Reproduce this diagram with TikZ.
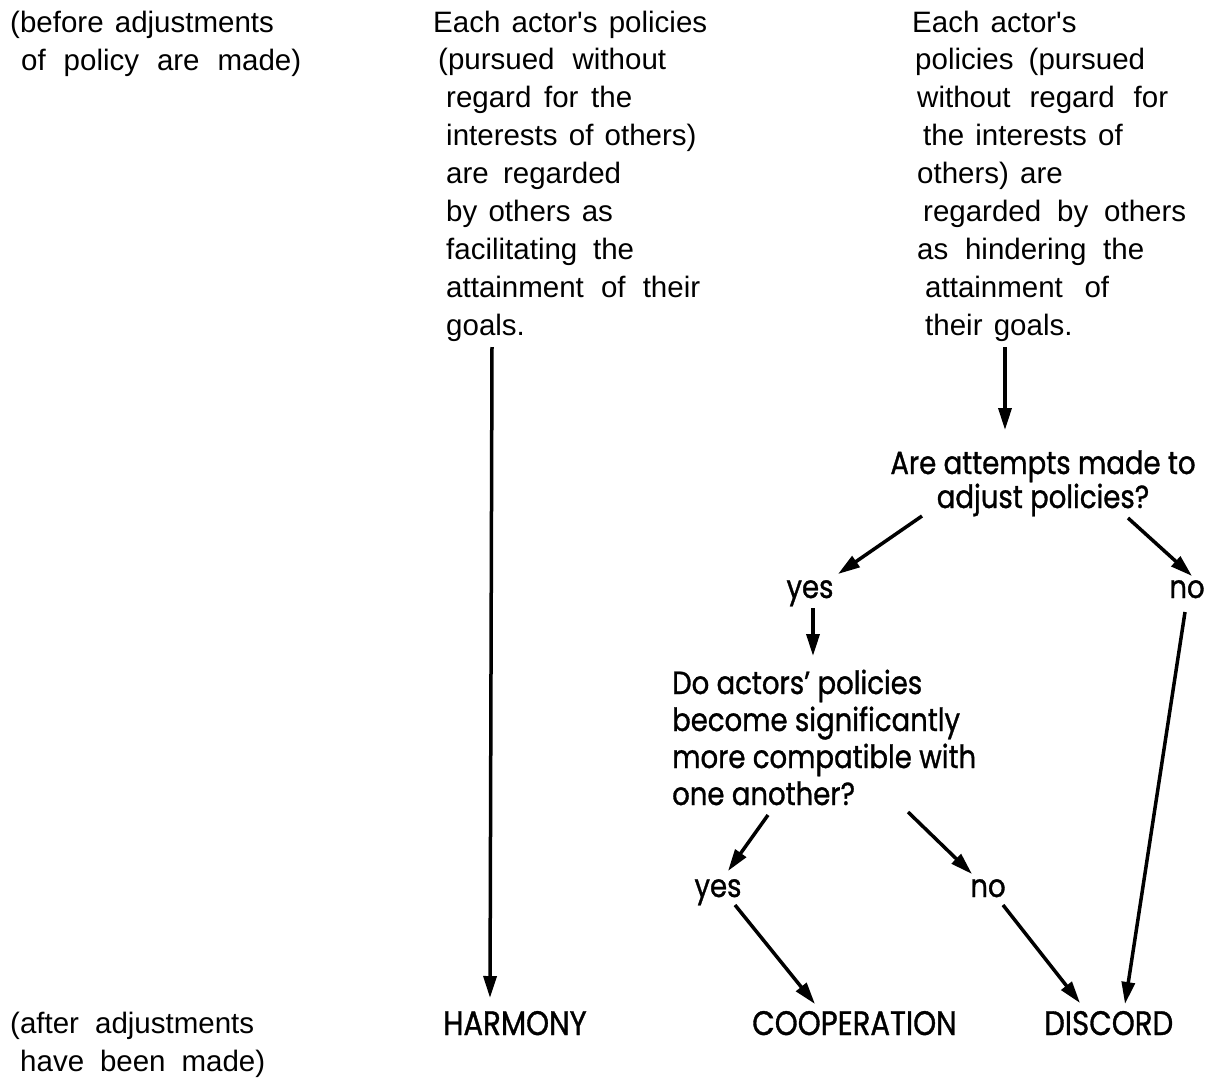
\documentclass[tikz,border=0pt]{standalone}
\usepackage{fontspec}
\newfontfamily\plainfont{Liberation Sans}
\newfontfamily\agfont[FakeStretch=0.86,FakeBold=1]{Poppins}
\newcommand\spreadto[2]{\makebox[#1][s]{#2}}
\newcommand\widesp{\spaceskip=0.38em plus 0.4em minus 0.1em\relax}
\usetikzlibrary{arrows.meta}
\begin{document}
\begin{tikzpicture}[x=1pt,y=-1pt,
  plain/.style={inner sep=0pt, font=\plainfont\fontsize{29.5}{34}\selectfont, execute at begin node=\widesp, anchor=base west},
  geo/.style={inner sep=0pt, font=\agfont\fontsize{32}{36}\selectfont, anchor=base},
  geol/.style={geo, anchor=base west},
  lab/.style={inner sep=0pt, font=\agfont\fontsize{34}{38}\selectfont, anchor=base west},
  arr/.style={line width=3.5pt, -{Triangle[length=22pt,width=13pt]}}]
\path[use as bounding box] (0,0) rectangle (1208,1079);
% left margin notes
\node[plain] (b1) at (10,32) {(before adjustments};
\node[plain] (b2) at (21,70) {\spreadto{280pt}{of policy are made)}};
\node[plain] (a1) at (10,1033) {\spreadto{244pt}{(after adjustments}};
\node[plain] (a2) at (20,1071) {\spreadto{245pt}{have been made)}};
% middle column
\node[plain] (m1) at (433,32) {Each actor's policies};
\node[plain] (m2) at (438,69.9) {\spreadto{228pt}{(pursued without}};
\node[plain] (m3) at (446,107.8) {\spreadto{186pt}{regard for the}};
\node[plain] (m4) at (446,145.6) {interests of others)};
\node[plain] (m5) at (446,183.5) {\spreadto{175pt}{are regarded}};
\node[plain] (m6) at (446,221.4) {by others as};
\node[plain] (m7) at (446,259.3) {\spreadto{188pt}{facilitating the}};
\node[plain] (m8) at (446,297.1) {\spreadto{254pt}{attainment of their}};
\node[plain] (m9) at (446,335) {goals.};
% right column
\node[plain] (r1) at (912,32) {Each actor's};
\node[plain] (r2) at (915,69.9) {\spreadto{230pt}{policies (pursued}};
\node[plain] (r3) at (917,107.8) {\spreadto{251pt}{without regard for}};
\node[plain] (r4) at (923,145.6) {the interests of};
\node[plain] (r5) at (917,183.5) {others) are};
\node[plain] (r6) at (923,221.4) {\spreadto{263pt}{regarded by others}};
\node[plain] (r7) at (917,259.3) {\spreadto{227pt}{as hindering the}};
\node[plain] (r8) at (925,297.1) {\spreadto{184pt}{attainment of}};
\node[plain] (r9) at (925,335) {their goals.};
% decision 1
\node[geo] (q1) at (1043,474) {Are attempts made to};
\node[geo] (q2) at (1043,508) {adjust policies?};
\node[geo] (yes1) at (810,598) {yes};
\node[geo] (no1) at (1187,598) {no};
% decision 2
\node[geol] (d1) at (672,694) {Do actors’ policies};
\node[geol] (d2) at (672,731) {become significantly};
\node[geol] (d3) at (672,768) {more compatible with};
\node[geol] (d4) at (672,805) {one another?};
\node[geo] (yes2) at (718,897) {yes};
\node[geo] (no2) at (988,897) {no};
% outcomes
\node[lab] (harmony) at (443,1035) {HARMONY};
\node[lab] (coop) at (752,1035) {COOPERATION};
\node[lab] (discord) at (1044,1035) {DISCORD};
% connectors
\draw[arr] ([shift={(46,12)}]m9.base west) -- ([shift={(47,-37)}]harmony.base west);
\draw[arr] ([shift={(80,12)}]r9.base west) -- ([shift={(-38,-44)}]q1.base);
\draw[arr] ([shift={(-121,8)}]q2.base) -- ([shift={(28,-24)}]yes1.base);
\draw[arr] ([shift={(85,10)}]q2.base) -- ([shift={(5,-22)}]no1.base);
\draw[arr] ([shift={(3,10)}]yes1.base) -- ([shift={(141,-38)}]d1.base west);
\draw[arr] ([shift={(-2,14)}]no1.base) -- ([shift={(81,-31)}]discord.base west);
\draw[arr] ([shift={(96,10)}]d4.base west) -- ([shift={(10,-26)}]yes2.base);
\draw[arr] ([shift={(236,7)}]d4.base west) -- ([shift={(-16,-23)}]no2.base);
\draw[arr] ([shift={(17,8)}]yes2.base) -- ([shift={(63,-31)}]coop.base west);
\draw[arr] ([shift={(15,8)}]no2.base) -- ([shift={(36,-32)}]discord.base west);
\end{tikzpicture}
\end{document}
